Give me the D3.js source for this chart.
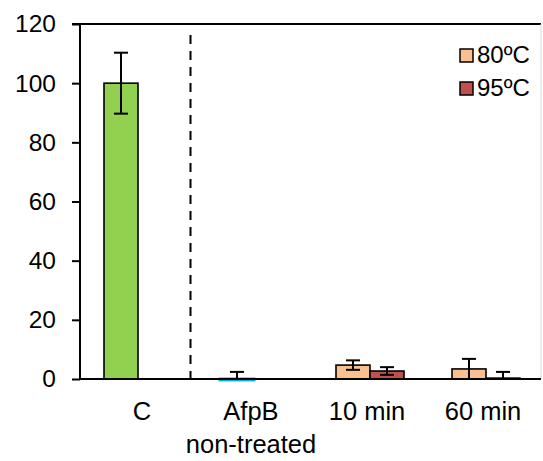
<!DOCTYPE html>
<html>
<head>
<meta charset="utf-8">
<script src="https://cdn.jsdelivr.net/npm/d3@7"></script>
<style>
  html, body { margin: 0; padding: 0; background: #fff; }
  svg { display: block; }
  text { font-family: "Liberation Sans", Arial, sans-serif; fill: #000; }
</style>
</head>
<body>
<svg id="chart" width="543" height="461"></svg>
<script>
// ---- data ----
const categories = ["C", "AfpB|non-treated", "10 min", "60 min"];
const seriesNames = ["80ºC", "95ºC"];
const values80 = [100, -0.3, 4.7, 3.4];
const errors80 = [10.3, 2.7, 1.6, 3.4];
const values95 = [null, null, 2.7, 0.3];
const errors95 = [null, null, 1.3, 2.1];
const firstBarColors = ["#92D050", "#00B0F0", "#FAC090", "#FAC090"];
const color95 = "#C0504D";
const legendColors = ["#FAC090", "#C0504D"];
const yTicks = [0, 20, 40, 60, 80, 100, 120];

// ---- layout ----
const svg = d3.select("#chart");
const mLeft = 80, mRight = 544, mTop = 24, mBottom = 379;

const x = d3.scaleBand().domain(categories).range([mLeft, mRight]).padding(0);
const x1 = d3.scaleBand().domain(seriesNames).range([0, x.bandwidth()]).paddingInner(0).paddingOuter(0.706);
const y = d3.scaleLinear().domain([0, 120]).range([mBottom, mTop]);

// frame: top line and faint right line
svg.append("line").attr("x1", 72).attr("x2", 541).attr("y1", y(120)).attr("y2", y(120))
  .attr("stroke", "#000").attr("stroke-width", 2);
svg.append("line").attr("x1", 541).attr("x2", 541).attr("y1", y(120)).attr("y2", y(0))
  .attr("stroke", "#d9d9d9").attr("stroke-width", 1);

// y axis
const yAxis = d3.axisLeft(y).tickValues(yTicks).tickSize(8).tickPadding(16);
const gy = svg.append("g").attr("transform", `translate(${mLeft},0)`).call(yAxis);
gy.select(".domain").attr("stroke", "#000").attr("stroke-width", 2).attr("d", `M-8,${y(120)}H0V${y(0)}`);
gy.selectAll(".tick line").attr("stroke", "#000").attr("stroke-width", 2);
gy.selectAll(".tick text").attr("font-size", 24.5).attr("font-family", "Liberation Sans, Arial, sans-serif").attr("fill", "#000");

// dashed separator
svg.append("line")
  .attr("x1", x(categories[1]) - 5.5).attr("x2", x(categories[1]) - 5.5)
  .attr("y1", 35).attr("y2", y(0))
  .attr("stroke", "#000").attr("stroke-width", 2).attr("stroke-dasharray", "9,7");

// bars
const bars = [];
categories.forEach((c, i) => {
  if (values80[i] !== null) bars.push({c, s: seriesNames[0], v: values80[i], e: errors80[i], col: firstBarColors[i]});
  if (values95[i] !== null) bars.push({c, s: seriesNames[1], v: values95[i], e: errors95[i], col: color95});
});

svg.append("g").selectAll("rect").data(bars).join("rect")
  .attr("x", d => x(d.c) + x1(d.s))
  .attr("width", x1.bandwidth())
  .attr("y", d => Math.min(y(d.v), y(0)))
  .attr("height", d => Math.max(Math.abs(y(d.v) - y(0)), 0.01))
  .attr("fill", d => d.col)
  .attr("stroke", d => d.col === "#00B0F0" ? "#00B0F0" : "#000")
  .attr("stroke-width", d => d.col === "#00B0F0" ? 3 : 1.6);

// x axis line
svg.append("line").attr("x1", mLeft).attr("x2", 541).attr("y1", y(0)).attr("y2", y(0))
  .attr("stroke", "#000").attr("stroke-width", 2);

// error bars
const eg = svg.append("g").attr("stroke", "#000").attr("stroke-width", 2);
bars.filter(d => d.e !== null).forEach(d => {
  const cx = x(d.c) + x1(d.s) + x1.bandwidth() / 2;
  const yt = y(d.v + d.e);
  const lowY = y(d.v - d.e);
  eg.append("line").attr("x1", cx).attr("x2", cx).attr("y1", yt).attr("y2", lowY > y(0) ? y(0) : lowY);
  eg.append("line").attr("x1", cx - 7).attr("x2", cx + 7).attr("y1", yt).attr("y2", yt);
  if (lowY <= y(0)) {
    eg.append("line").attr("x1", cx - 7).attr("x2", cx + 7).attr("y1", lowY).attr("y2", lowY);
  }
});

// x labels
categories.forEach(c => {
  const lines = c.split("|");
  const cx = x(c) + x.bandwidth() / 2 + (c === "C" ? 4 : -3);
  const t = svg.append("text").attr("text-anchor", "middle").attr("font-size", 25.5)
    .attr("x", cx).attr("y", 420);
  lines.forEach((l, k) => {
    t.append("tspan").attr("x", cx).attr("dy", k === 0 ? 0 : 33).text(l);
  });
});

// legend
seriesNames.forEach((s, i) => {
  const ly = 49 + i * 33;
  svg.append("rect").attr("x", 460).attr("y", ly).attr("width", 13).attr("height", 13)
    .attr("fill", legendColors[i]).attr("stroke", "#000").attr("stroke-width", 1.5);
  svg.append("text").attr("x", 477).attr("y", ly + 14).attr("font-size", 24).text(s);
});
</script>
</body>
</html>
